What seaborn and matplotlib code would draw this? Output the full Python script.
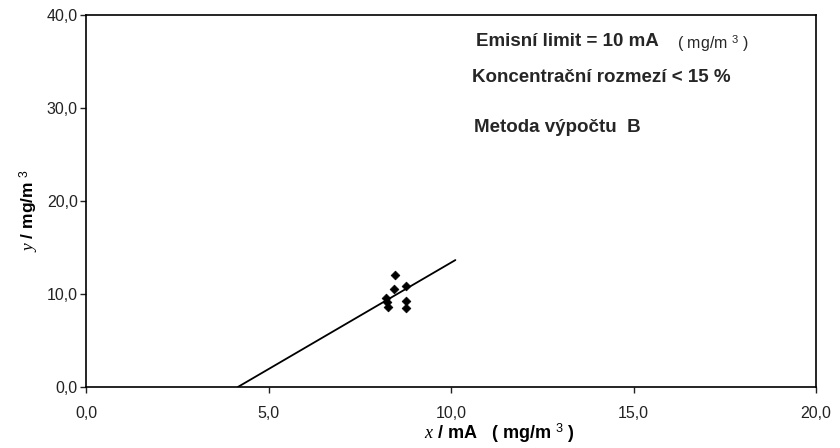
import matplotlib
matplotlib.use("Agg")
import matplotlib.pyplot as plt
import seaborn as sns
import pandas as pd

# Measured pairs (x = reference method, y = AMS reading), mg/m3
x_vals = [8.47, 8.45, 8.76, 8.23, 8.25, 8.27, 8.77, 8.77]
y_vals = [12.05, 10.55, 10.85, 9.55, 9.15, 8.65, 9.25, 8.45]

# Calibration line end points
line_x = [4.16, 10.12]
line_y = [0.0, 13.65]

x_ticks = [0.0, 5.0, 10.0, 15.0, 20.0]
y_ticks = [0.0, 10.0, 20.0, 30.0, 40.0]

sns.set_style("ticks")
plt.rcParams["font.family"] = ["Liberation Sans", "DejaVu Sans"]
plt.rcParams["mathtext.fontset"] = "custom"
plt.rcParams["mathtext.it"] = "Liberation Serif:italic"
plt.rcParams["mathtext.rm"] = "Liberation Sans"
plt.rcParams["mathtext.bf"] = "Liberation Sans:bold"

fig = plt.figure(figsize=(8.4, 4.48), dpi=100)
ax = fig.add_axes([86 / 840, 1 - 387 / 448, 730 / 840, 372 / 448])

pts = pd.DataFrame({"x": x_vals, "y": y_vals})
ln = pd.DataFrame({"x": line_x, "y": line_y})

sns.lineplot(data=ln, x="x", y="y", ax=ax, color="black", linewidth=1.3)
sns.scatterplot(data=pts, x="x", y="y", ax=ax, marker="D", s=20,
                color="black", edgecolor="black", linewidth=0.5, zorder=3)

ax.set_xlim(0, 20)
ax.set_ylim(0, 40)
ax.set_xticks(x_ticks)
ax.set_yticks(y_ticks)
ax.set_xticklabels([f"{v:.1f}".replace(".", ",") for v in x_ticks])
ax.set_yticklabels([f"{v:.1f}".replace(".", ",") for v in y_ticks])
ax.tick_params(axis="both", labelsize=11.5, colors="#222222", length=4,
               width=1.0, direction="out")
ax.tick_params(axis="x", pad=10)
ax.tick_params(axis="y", pad=2)

for side in ["left", "bottom", "top", "right"]:
    ax.spines[side].set_visible(True)
    ax.spines[side].set_color("black")
    ax.spines[side].set_linewidth(1.2)

ax.set_xlabel(r"$\mathit{x}$ / mA   ( mg/m $^{3}$ )", fontsize=13,
              fontweight="bold", color="black")
ax.set_ylabel(r"$\mathit{y}$ / mg/m $^{3}$", fontsize=12.5,
              fontweight="bold", color="black")
ax.xaxis.set_label_coords(0.567, -0.094)
ax.yaxis.set_label_coords(-0.062, 0.475)

def px(xp, yp):
    return xp / 840, 1 - yp / 448

fig.text(*px(476, 42), "Emisní limit = 10 mA", fontsize=13.5, fontweight="bold",
         va="center", ha="left")
fig.text(*px(677, 44), r"( mg/m $^{3}$ )", fontsize=11.5, va="center",
         ha="left")
fig.text(*px(472, 77), "Koncentrační rozmezí < 15 %", fontsize=13.5,
         fontweight="bold", va="center", ha="left")
fig.text(*px(474, 128), "Metoda výpočtu  B", fontsize=13.5, fontweight="bold",
         va="center", ha="left")

fig.savefig("out.png", dpi=100)
